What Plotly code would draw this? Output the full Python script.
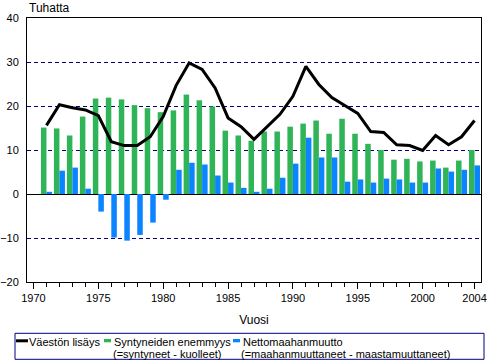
import plotly.graph_objects as go

years = list(range(1971, 2005))
vaeston_lisays = [15.6, 20.3, 19.6, 19.1, 17.8, 11.9, 11.0, 11.0, 13.0, 17.6,
                  24.7, 29.8, 28.3, 24.1, 17.3, 15.3, 12.4, 15.3, 18.1, 22.2,
                  29.0, 24.9, 21.9, 20.1, 18.3, 14.2, 14.0, 11.2, 11.0, 9.9,
                  13.3, 11.2, 13.0, 16.7]
syntyneiden_enemmyys = [15.1, 14.9, 13.3, 17.6, 21.7, 21.9, 21.5, 20.2, 19.5, 18.6,
                        19.0, 22.6, 21.3, 19.9, 14.4, 13.3, 12.1, 14.2, 14.2, 15.3,
                        16.0, 16.7, 13.7, 17.1, 13.7, 11.4, 10.0, 7.8, 8.0, 7.4,
                        7.6, 6.0, 7.6, 10.0]
nettomaahanmuutto = [0.5, 5.3, 6.0, 1.2, -4.0, -9.9, -10.6, -9.3, -6.5, -1.3,
                     5.5, 7.1, 6.7, 4.2, 2.6, 1.4, 0.5, 1.2, 3.7, 6.9,
                     12.8, 8.3, 8.3, 2.8, 3.3, 2.6, 3.5, 3.3, 2.6, 2.6,
                     5.8, 5.1, 5.5, 6.5]
x_tick_vals = [1970, 1975, 1980, 1985, 1990, 1995, 2000, 2004]
y_tick_vals = [-20, -10, 0, 10, 20, 30, 40]
series_names = ["Väestön lisäys",
                ["Syntyneiden enemmyys", "(=syntyneet - kuolleet)"],
                ["Nettomaahanmuutto", "(=maahanmuuttaneet - maastamuuttaneet)"]]

FONT = "Liberation Sans, Arial, sans-serif"
GREEN = "#30B458"
BLUE = "#0A84FF"
NAVY = "#000080"

W, H = 497, 360
ML, MR, MT, MB = 27, 16, 18, 78
PW, PH = W - ML - MR, H - MT - MB


def px(x):
    return (x - ML) / PW


def py(y):
    return (H - MB - y) / PH


fig = go.Figure()
fig.add_trace(go.Bar(x=years, y=syntyneiden_enemmyys, marker=dict(color=GREEN, line_width=0),
                     name=" ".join(series_names[1])))
fig.add_trace(go.Bar(x=years, y=nettomaahanmuutto, marker=dict(color=BLUE, line_width=0),
                     name=" ".join(series_names[2])))
fig.add_trace(go.Scatter(x=years, y=vaeston_lisays, mode="lines",
                         line=dict(color="black", width=3),
                         name=series_names[0]))

shapes = [
    # legend frame
    dict(type="rect", xref="paper", yref="paper", x0=px(15), x1=px(484), y0=py(359.3), y1=py(333.3),
         line=dict(color=NAVY, width=1), fillcolor="white", layer="above"),
    # legend symbols
    dict(type="line", xref="paper", yref="paper", x0=px(16), x1=px(28), y0=py(340.8), y1=py(340.8),
         line=dict(color="black", width=3), layer="above"),
    dict(type="rect", xref="paper", yref="paper", x0=px(104), x1=px(111), y0=py(342.3), y1=py(339),
         line=dict(width=0), fillcolor=GREEN, layer="above"),
    dict(type="rect", xref="paper", yref="paper", x0=px(233), x1=px(240), y0=py(342.3), y1=py(339),
         line=dict(width=0), fillcolor=BLUE, layer="above"),
]

def legend_text(text, x, y):
    return dict(text=text, xref="paper", yref="paper", x=px(x), y=py(y), xanchor="left",
                yanchor="middle", showarrow=False, borderpad=0,
                font=dict(size=11, family=FONT, color="black"))

annotations = [
    dict(text="Tuhatta", xref="paper", yref="paper", x=0, y=1.0,
         xanchor="left", yanchor="bottom", showarrow=False, yshift=1,
         font=dict(size=12, family=FONT)),
    legend_text(series_names[0], 28, 342),
    legend_text(series_names[1][0], 113, 342),
    legend_text(series_names[1][1], 112, 354),
    legend_text(series_names[2][0], 241.5, 342),
    legend_text(series_names[2][1], 240, 354),
]

fig.update_layout(
    width=W, height=H,
    margin=dict(l=ML, r=MR, t=MT, b=MB),
    paper_bgcolor="white", plot_bgcolor="white",
    barmode="group", bargap=0.15, bargroupgap=0,
    font=dict(family=FONT, size=11, color="black"),
    showlegend=False,
    shapes=shapes,
    annotations=annotations,
)
fig.update_xaxes(range=[1969.5, 2004.5], tickvals=x_tick_vals, automargin=False,
                 ticks="outside", ticklen=6, tickcolor="black",
                 minor=dict(dtick=1, tick0=1970, ticks="outside", ticklen=4, tickcolor="black"),
                 showline=True, linecolor="black", linewidth=1, mirror=True,
                 showgrid=False, zeroline=False,
                 title=dict(text="Vuosi", standoff=12, font=dict(size=12)),
                 tickfont=dict(size=11))
fig.update_yaxes(range=[-20, 40], tickvals=y_tick_vals, ticks="", automargin=False,
                 ticklabelstandoff=5,
                 showline=True, linecolor="black", linewidth=1, mirror=True,
                 showgrid=True, gridcolor=NAVY, griddash="4px,3px", gridwidth=1,
                 zeroline=True, zerolinecolor="black", zerolinewidth=1,
                 tickfont=dict(size=11))

fig.write_html("out.html", config={"displayModeBar": False},
               post_script="document.body.style.margin='0';")
